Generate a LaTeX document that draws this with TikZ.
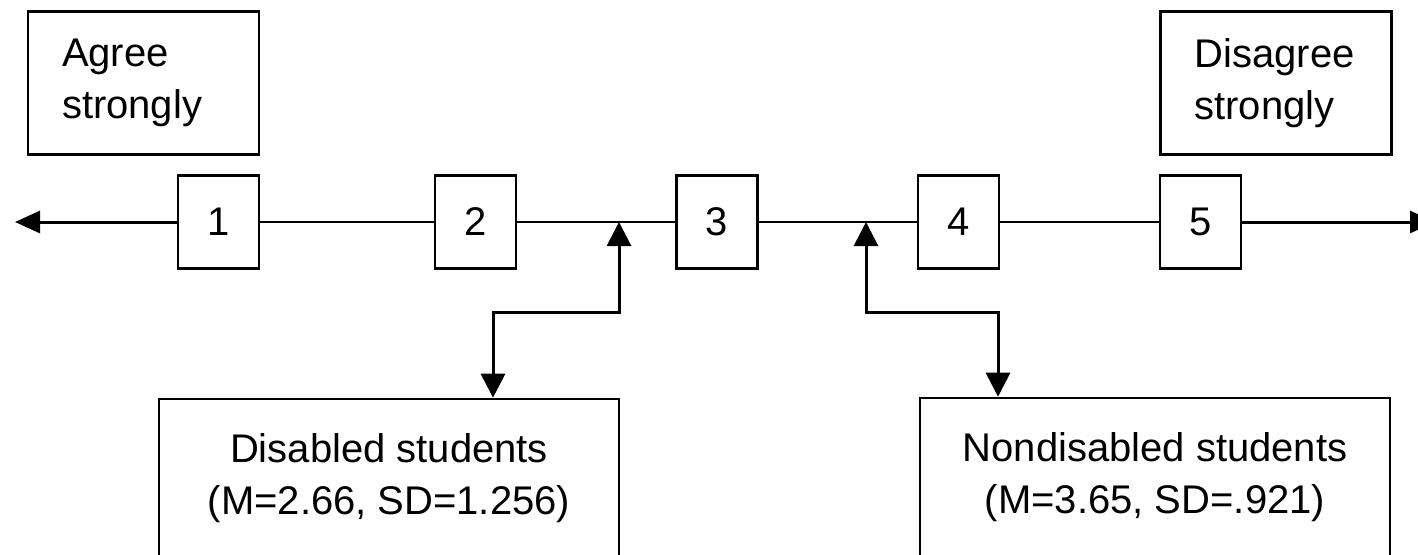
\documentclass[tikz,border=0pt]{standalone}
\usepackage{fontspec}
\setmainfont{Liberation Sans}
\usetikzlibrary{arrows.meta}

\begin{document}
\begin{tikzpicture}[x=0.5pt, y=-0.5pt,
  every node/.style={font=\fontsize{20}{26}\selectfont},
  scalebox/.style={draw, line width=1.3pt, minimum width=40.5pt, minimum height=46.5pt, inner sep=0pt},
  endbox/.style={draw, line width=1.3pt, text width=81.5pt, inner xsep=17pt, align=left, minimum height=71.5pt},
  groupbox/.style={draw, line width=1.3pt, align=center, text depth=9.5pt, minimum height=84pt},
  axis/.style={line width=1pt},
  outer/.style={line width=1.5pt, -{Triangle[length=12.5pt, width=11pt]}},
  link/.style={line width=1.5pt, {Triangle[length=12pt, width=12pt]}-{Triangle[length=12pt, width=12pt]}}]
\useasboundingbox (0,0) rectangle (1418,554);
\clip (0,0) rectangle (1418,554);
% end labels
\node[endbox] (agree) at (143.5,83) {Agree\\strongly};
\node[endbox] (disagree) at (1276,83) {Disagree\\strongly};
% scale
\foreach \n/\x in {1/218.5, 2/475.5, 3/717, 4/958.5, 5/1200.5}
  \node[scalebox] (s\n) at (\x,222) {\n};
\draw[axis] (s1) -- (s2) -- (s3) -- (s4) -- (s5);
\coordinate (lend) at (15,222);
\coordinate (rend) at (1435,222);
\draw[outer] (s1) -- (lend);
\draw[outer] (s5) -- (rend);
% group means
\coordinate (dism) at (619,222);
\coordinate (nonm) at (866,222);
\coordinate (disk) at (493,312);
\coordinate (nonk) at (998,312);
\node[groupbox, minimum width=230pt] (dis) at (389,483) {Disabled students\\(M=2.66, SD=1.256)};
\node[groupbox, minimum width=235pt] (non) at (1155,482) {Nondisabled students\\(M=3.65, SD=.921)};
\draw[link] (disk |- dis.north) -- (disk) -| (dism);
\draw[link] (nonk |- non.north) -- (nonk) -| (nonm);
\end{tikzpicture}
\end{document}
